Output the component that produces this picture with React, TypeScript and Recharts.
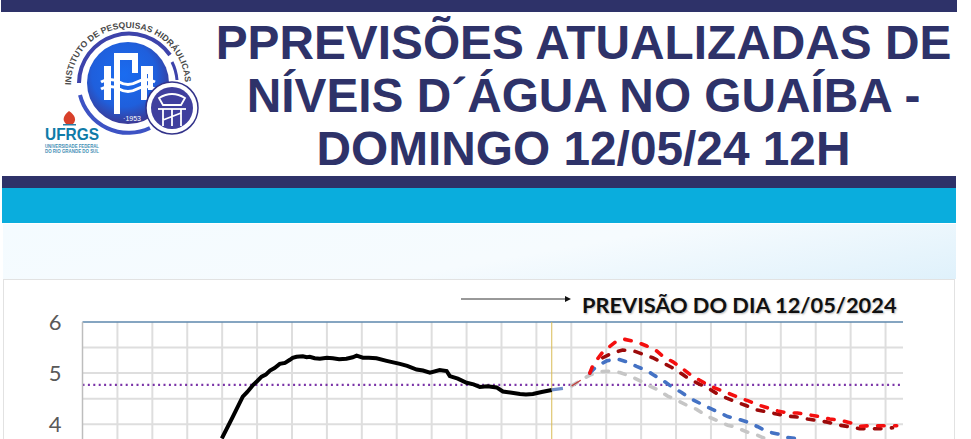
import React from "react";
import { LineChart, Line, XAxis, YAxis, ReferenceLine } from "recharts";

const titleLines = ["PPREVISÕES ATUALIZADAS DE", "NÍVEIS D´ÁGUA NO GUAÍBA -", "DOMINGO 12/05/24 12H"];
const forecastLabel = "PREVISÃO DO DIA 12/05/2024";
const dayTicks = [0,1,2,3,4,5,6,7,8,9,10,11,12,13,14,15,16,17,18,19,20,21,22,23];
const levelTicks = [4, 4.5, 5, 5.5, 6];
const gridLevels = [4, 4.5, 5, 5.5];
const floodLevel = 4.77;
const todayDay = 13.44;

const observedDays = [3.99,4.3,4.59,4.72,4.89,5.0,5.13,5.25,5.37,5.5,5.65,5.8,5.94,6.02,6.13,6.31,6.42,6.51,6.65,6.8,7.0,7.17,7.35,7.56,7.74,7.85,8.03,8.2,8.42,8.71,9.09,9.3,9.57,9.75,9.95,10.23,10.43,10.52,10.75,11,11.2,11.38,11.6,11.86,12.04,12.25,12.53,12.7,12.9,13.15,13.44];
const observedLevels = [3.72,4.14,4.54,4.63,4.77,4.84,4.93,4.97,5.05,5.1,5.18,5.2,5.26,5.3,5.32,5.33,5.31,5.32,5.29,5.28,5.3,5.29,5.27,5.28,5.31,5.34,5.3,5.3,5.29,5.24,5.18,5.14,5.07,5.05,5.01,5.06,5.04,4.94,4.89,4.81,4.78,4.73,4.74,4.72,4.64,4.62,4.59,4.58,4.59,4.63,4.67];

const linkBlueDays = [13.44,13.76];
const linkBlueLevels = [4.67,4.7];
const linkRedDays = [14.01,14.27];
const linkRedLevels = [4.75,4.86];

const redDays = [14.53,14.62,14.9,15.3,15.53,15.87,16.16,16.45,16.62,16.91,17.16,17.39,17.68,17.96,18.48,18.77,19.05,19.34,19.62,19.91,20.2,20.48,20.83,21.11,21.4,21.69,22.03,22.26,22.6,22.89,23.32];
const redLevels = [5,5.16,5.41,5.63,5.66,5.61,5.53,5.43,5.33,5.22,5.1,4.98,4.86,4.75,4.61,4.53,4.46,4.38,4.32,4.26,4.22,4.22,4.18,4.15,4.1,4.08,4.02,3.96,3.97,3.97,3.97];
const darkDays = [14.9,15.16,15.47,15.76,16.05,16.33,16.62,16.88,17.11,17.39,17.68,17.91,18.19,18.45,18.74,19.02,19.31,19.6,19.88,20.17,20.48,20.77,21.06,21.34,21.69,21.97,22.26,22.55,22.89,23.2];
const darkLevels = [5.3,5.39,5.45,5.44,5.37,5.3,5.2,5.11,5.01,4.88,4.78,4.71,4.59,4.51,4.43,4.36,4.28,4.24,4.2,4.16,4.14,4.1,4.07,4.04,3.98,3.95,3.91,3.91,3.91,3.93];
const blueDays = [14.53,14.73,15.02,15.3,15.59,15.87,16.16,16.39,16.68,16.88,17.16,17.39,17.68,17.88,18.19,18.48,18.77,19.05,19.34,19.62,19.91,20.2,20.54];
const blueLevels = [5,5.14,5.24,5.28,5.22,5.13,5.05,4.95,4.83,4.73,4.62,4.51,4.41,4.34,4.24,4.15,4.1,4.04,3.95,3.85,3.81,3.74,3.71];
const grayDays = [14.01,14.27,14.53,14.82,15.16,15.39,15.73,16.02,16.3,16.48,16.76,17.02,17.34,17.59,17.91,18.48,18.68,19.02,19.25,19.54];
const grayLevels = [4.75,4.86,4.96,5.03,5.04,5.01,4.93,4.83,4.73,4.67,4.55,4.47,4.36,4.29,4.15,3.98,3.95,3.85,3.81,3.72];

const zip = (days: number[], levels: number[]) => days.map((day, i) => ({ day, level: levels[i] }));

const NAVY = "#2e3269";
const DASH = "6.5 10.5";
const GRID = "#dedede";

function Logo() {
  return (
    <svg width={210} height={170} style={{ position: "absolute", left: 0, top: 12 }} viewBox="0 12 210 170">
      <defs>
        <path id="arcText" d="M 71 85 A 57 57 0 0 1 185 85" />
        <radialGradient id="disc" cx="45%" cy="40%" r="60%">
          <stop offset="0%" stopColor="#1a6cf0" />
          <stop offset="65%" stopColor="#1f5fdc" />
          <stop offset="100%" stopColor="#3b3a96" />
        </radialGradient>
      </defs>
      <text fontFamily="'Liberation Sans', sans-serif" fontWeight={700} fontSize={8.6} fill="#4a4a4a">
        <textPath href="#arcText" textLength={176} lengthAdjust="spacingAndGlyphs">INSTITUTO DE PESQUISAS HIDRÁULICAS</textPath>
      </text>
      <path d="M 79 83 A 50 50 0 0 1 170 55" fill="none" stroke="#3d43ab" strokeWidth={4} />
      <path d="M 172 62 A 50 50 0 0 1 177 80" fill="none" stroke="#3d43ab" strokeWidth={3} />
      <path d="M 80 95 A 50 50 0 0 0 150 128" fill="none" stroke="#3d53c4" strokeWidth={4} />
      <circle cx={128} cy={83} r={41} fill="url(#disc)" />
      <g fill="#ffffff">
        <rect x={104} y={66} width={7} height={34} />
        <rect x={114} y={60} width={6} height={54} />
        <rect x={114} y={53} width={24} height={7} />
        <rect x={132} y={53} width={6} height={20} />
        <rect x={141} y={66} width={6} height={34} />
        <rect x={146} y={66} width={7} height={8} />
        <rect x={148} y={66} width={5} height={24} />
      </g>
      <path d="M 101 82 Q 110 77 119 82 T 137 82 T 155 82" fill="none" stroke="#ffffff" strokeWidth={3} />
      <path d="M 101 89 Q 110 84 119 89 T 137 89 T 155 89" fill="none" stroke="#ffffff" strokeWidth={3} />
      <text x={132} y={121} fill="#ffffff" fontSize={7} textAnchor="middle" fontFamily="'Liberation Sans', sans-serif">·1953</text>
      <circle cx={172} cy={108} r={26} fill="#ffffff" stroke="#33338a" strokeWidth={1.5} />
      <circle cx={172} cy={108} r={21} fill="#3f3f9e" />
      <g fill="none" stroke="#ffffff" strokeWidth={1.8}>
        <path d="M 159 98 Q 172 90 185 98 L 181 105 L 163 105 Z" />
        <path d="M 158 109 L 186 109" />
        <path d="M 163 109 L 163 126 M 172 109 L 172 126 M 181 109 L 181 126 M 163 120 L 181 113" />
      </g>
      <path d="M 69 111 C 63 116 62 120 66 124 L 73 124 C 77 120 75 115 69 111 Z" fill="#d8402a" />
      <rect x={63} y={124} width={13} height={1.5} fill="#2a7ea8" />
      <text x={45} y={140} fill="#0f7ba8" fontSize={16.5} fontWeight={700} fontFamily="'Liberation Sans', sans-serif" textLength={54} lengthAdjust="spacingAndGlyphs">UFRGS</text>
      <text x={45} y={148} fill="#3f8fb5" fontSize={4.6} fontWeight={700} fontFamily="'Liberation Sans', sans-serif" textLength={54} lengthAdjust="spacingAndGlyphs">UNIVERSIDADE FEDERAL</text>
      <text x={45} y={153} fill="#3f8fb5" fontSize={4.6} fontWeight={700} fontFamily="'Liberation Sans', sans-serif" textLength={54} lengthAdjust="spacingAndGlyphs">DO RIO GRANDE DO SUL</text>
    </svg>
  );
}

const dashed = { strokeWidth: 3.6, strokeDasharray: DASH, strokeLinecap: "round" as const, dot: false, isAnimationActive: false };

export default function App() {
  const box = (left: number, top: number, width: number, height: number, background: string): React.CSSProperties => ({
    position: "absolute", left, top, width, height, background,
  });
  return (
    <div style={{ position: "fixed", left: 0, top: 0, width: 971, height: 439, overflow: "hidden", background: "#ffffff" }}>
      <div style={box(1, 0, 956, 12, NAVY)} />
      <div style={box(2, 176, 954, 12, NAVY)} />
      <div style={box(2, 188, 954, 35, "#0aaddd")} />
      <div style={box(3, 224, 953, 55, "linear-gradient(170deg, #f4fbff 0%, #f6fbfe 55%, #dff1fb 100%)")} />
      <div style={{ ...box(3, 279, 952, 170, "#ffffff"), border: "1px solid #e2e2e2", boxSizing: "border-box" }} />
      <Logo />
      {titleLines.map((t, i) => (
        <div key={t} style={{
          position: "absolute", left: 183.5, width: 800, textAlign: "center", top: 16 + i * 53, height: 53, lineHeight: "53px",
          fontFamily: "'Liberation Sans', Arial, sans-serif", fontWeight: 700, fontSize: 47.8, color: NAVY, whiteSpace: "nowrap",
        }}>{t}</div>
      ))}
      <div style={{ position: "absolute", left: 0, top: 0 }}>
        <LineChart width={971} height={439} margin={{ top: 322, right: 68, left: 0, bottom: 0 }}>
          <XAxis type="number" dataKey="day" domain={[0, 23.5]} ticks={dayTicks} height={0} tick={false} axisLine={false} tickLine={false} allowDuplicatedCategory={false} />
          <YAxis
            type="number"
            domain={[3.71, 6]}
            ticks={levelTicks}
            width={82.5}
            axisLine={{ stroke: "#bdbdbd", strokeWidth: 1.5 }}
            tickLine={false}
            tickMargin={15}
            tickFormatter={(v: number) => (Number.isInteger(v) ? String(v) : "")}
            tick={{ fontFamily: "Lato, sans-serif", fontSize: 22, fill: "#595959" }}
          />
          {dayTicks.slice(1).map((d) => <ReferenceLine key={d} x={d} stroke={GRID} strokeWidth={2} />)}
          {gridLevels.map((l) => <ReferenceLine key={l} y={l} stroke={GRID} strokeWidth={2} />)}
          <ReferenceLine y={6} stroke="#5d87ad" strokeWidth={1.5} />
          <ReferenceLine x={todayDay} stroke="#d9bb55" strokeWidth={1} />
          <ReferenceLine y={floodLevel} stroke="#7b35a8" strokeWidth={2.2} strokeDasharray="2 3.4" />
          <Line data={zip(observedDays, observedLevels)} dataKey="level" stroke="#000000" strokeWidth={4} dot={false} isAnimationActive={false} />
          <Line data={zip(grayDays, grayLevels)} dataKey="level" stroke="#c6c6c6" {...dashed} />
          <Line data={zip(linkRedDays, linkRedLevels)} dataKey="level" stroke="#c2403f" strokeWidth={1.4} dot={false} isAnimationActive={false} />
          <Line data={zip(linkBlueDays, linkBlueLevels)} dataKey="level" stroke="#6f8fc9" strokeWidth={3.2} dot={false} isAnimationActive={false} />
          <Line data={zip(blueDays, blueLevels)} dataKey="level" stroke="#4472c4" {...dashed} />
          <Line data={zip(darkDays, darkLevels)} dataKey="level" stroke="#9c0a0a" {...dashed} />
          <Line data={zip(redDays, redLevels)} dataKey="level" stroke="#f40f0f" {...dashed} />
        </LineChart>
      </div>
      <svg width={130} height={12} style={{ position: "absolute", left: 455, top: 293 }}>
        <line x1={6} y1={6} x2={112} y2={6} stroke="#333333" strokeWidth={1} />
        <path d="M 110 3 L 116 6 L 110 9 Z" fill="#111111" />
      </svg>
      <div style={{
        position: "absolute", left: 582, top: 291, height: 28, lineHeight: "28px", whiteSpace: "nowrap",
        fontFamily: "Lato, sans-serif", fontWeight: 700, fontSize: 21.8, color: "#111111", textShadow: "1px 1px 2px #bbbbbb",
      }}>{forecastLabel}</div>
    </div>
  );
}
